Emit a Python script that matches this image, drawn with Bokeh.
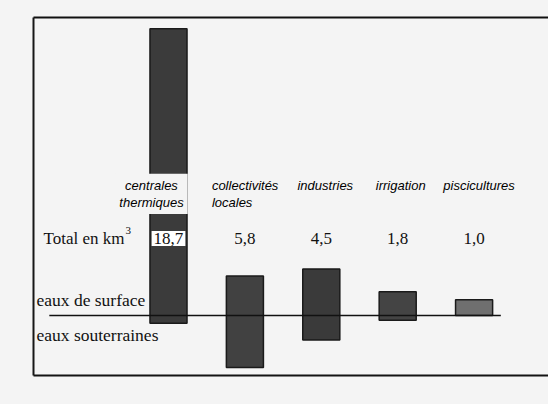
from bokeh.plotting import figure
from bokeh.models import ColumnDataSource, Range1d, LinearAxis, FixedTicker
from bokeh.core.properties import value
from bokeh.embed import file_html
from bokeh.resources import INLINE

# ---- data ----
categories = ["centrales\nthermiques", "collectivités\nlocales", "industries", "irrigation", "piscicultures"]
eaux_de_surface = [18.2, 2.5, 2.95, 1.5, 1.0]      # km3, above the line
eaux_souterraines = [0.5, 3.3, 1.55, 0.3, 0.0]     # km3, below the line
totaux = ["18,7", "5,8", "4,5", "1,8", "1,0"]
row_total = "Total en km"
row_surface = "eaux de surface"
row_sout = "eaux souterraines"

# ---- style ----
BG = "#f4f4f4"
bar_colors = ["#3b3b3b", "#414141", "#3a3a3a", "#444444", "#6f6f6f"]
label_align = ["center", "left", "center", "center", "center"]
label_dx = [-17, -37, 4, 3, 5]
value_bg = ["white", BG, BG, BG, BG]

idx = list(range(len(categories)))
src = ColumnDataSource(dict(
    x=idx,
    top=eaux_de_surface,
    bottom=[-v for v in eaux_souterraines],
    cat=categories,
    total=totaux,
    color=bar_colors,
    align=label_align,
    dx=label_dx,
    vbg=value_bg,
))

p = figure(width=548, height=404,
           x_range=Range1d(-1.767, 4.974), y_range=Range1d(-3.81, 18.92),
           output_backend="svg", toolbar_location=None,
           min_border_left=33, min_border_right=0, min_border_top=17, min_border_bottom=29,
           background_fill_color=BG, border_fill_color=BG)
p.outline_line_color = None

p.add_layout(LinearAxis(), "above")
for ax in p.axis:
    ax.ticker = FixedTicker(ticks=[])
    ax.major_tick_line_color = None
    ax.minor_tick_line_color = None
    ax.major_tick_out = 0
    ax.major_tick_in = 0
    ax.major_label_standoff = 0
    ax.axis_line_width = 2
p.above[0].axis_line_color = "#101010"
p.below[0].axis_line_color = "#131313"
p.left[0].axis_line_color = "#161616"
p.grid.visible = False

p.vbar(x="x", top="top", bottom="bottom", width=0.485, fill_color="color",
       line_color="#1a1a1a", line_width=1.5, source=src)

p.segment(x0=-1.56, y0=0, x1=len(categories) - 0.65, y1=0,
          line_color="#111111", line_width=1.5)

# category labels
p.text(x="x", y=9.0, text="cat", text_align="align", x_offset="dx",
       text_baseline="top", text_font=value("Liberation Sans"),
       text_font_style="italic", text_font_size="13px", text_line_height=1.15,
       text_color="#000000", background_fill_color=BG, padding=4, source=src)

# totals
p.text(x="x", y=4.89, text="total", text_align="center", text_baseline="middle",
       text_font=value("Liberation Serif"), text_font_size="17px", text_color="#111111",
       background_fill_color="vbg", padding=2, source=src)

serif = dict(text_font=value("Liberation Serif"), text_color="#111111", text_align="left",
             text_baseline="middle")
p.text(x=[-1.636], y=[4.89], text=[row_total], text_font_size="17px", **serif)
p.text(x=[-0.563], y=[5.37], text=["3"], text_font_size="11px", **serif)
p.text(x=[-1.728], y=[1.0], text=[row_surface], text_font_size="17.5px", **serif)
p.text(x=[-1.728], y=[-1.27], text=[row_sout], text_font_size="17.5px", **serif)

html = file_html(p, INLINE)
html = html.replace("<head>", "<head><style>html,body{background:%s;}</style>" % BG, 1)
open("out.html", "w").write(html)
